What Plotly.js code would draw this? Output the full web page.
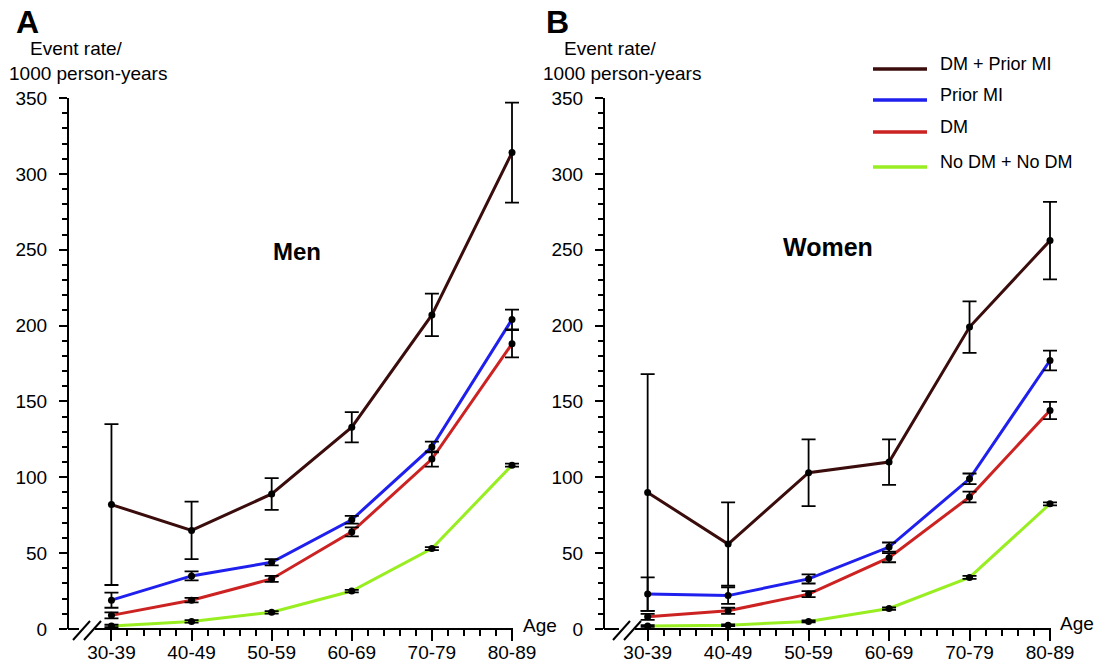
<!DOCTYPE html>
<html>
<head>
<meta charset="utf-8">
<script src="https://cdn.plot.ly/plotly-3.0.1.min.js"></script>
<style>
  html, body { margin: 0; padding: 0; background: #ffffff; }
  #chart { width: 1107px; height: 663px; }
</style>
</head>
<body>
<div id="chart"></div>
<script>
// ---------- data ----------
const ageGroups = ['30-39', '40-49', '50-59', '60-69', '70-79', '80-89'];
const seriesNames = ['DM + Prior MI', 'Prior MI', 'DM', 'No DM + No DM'];

// Men (panel A)
const menDMPriorMI    = [82, 65, 89, 133, 207, 314];
const menDMPriorMIErr = [53, 19, 10.5, 10, 14, 33];
const menPriorMI      = [19, 35, 44, 72, 120, 204];
const menPriorMIErr   = [5, 3, 2, 2.5, 3.5, 6.5];
const menDM           = [9, 19, 33, 64, 112, 188];
const menDMErr        = [2, 1.5, 2, 3, 5, 9];
const menNoDM         = [2, 5, 11, 25, 53, 108];
const menNoDMErr      = [0.8, 0.8, 0.8, 0.8, 1, 1];

// Women (panel B)
const womenDMPriorMI    = [90, 56, 103, 110, 199, 256];
const womenDMPriorMIErr = [78, 27.5, 22, 15, 17, 25.5];
const womenPriorMI      = [23, 22, 33, 54, 99, 177];
const womenPriorMIErr   = [11, 5.5, 3, 3, 3.5, 6.5];
const womenDM           = [8, 12, 23, 47, 87, 144];
const womenDMErr        = [2, 2, 2, 3, 3.5, 5.7];
const womenNoDM         = [2, 2.5, 5, 13.5, 34, 82.5];
const womenNoDMErr      = [0.6, 0.6, 0.6, 0.8, 1, 1];

const seriesColors = ['#3a0c0c', '#1f1fee', '#cc2222', '#99ee22'];

// ---------- build ----------
const W = 1107, H = 663;
const px = x => x / W;
const py = y => 1 - y / H;
const xPos = ageGroups.map((_, i) => i);

function lineTrace(name, vals, color, xa, ya) {
  return {
    type: 'scatter', mode: 'lines', name: name,
    x: xPos, y: vals, xaxis: xa, yaxis: ya,
    line: { color: color, width: 3 },
    showlegend: false, legendgroup: name, cliponaxis: false, hoverinfo: 'skip'
  };
}
function pointTrace(name, vals, errs, xa, ya) {
  return {
    type: 'scatter', mode: 'markers', name: name,
    x: xPos, y: vals, xaxis: xa, yaxis: ya,
    marker: { color: '#000000', size: 7 },
    error_y: { type: 'data', array: errs, visible: true, color: '#000000', thickness: 1.8, width: 7 },
    showlegend: false, legendgroup: name, cliponaxis: false
  };
}

const menSets = [[menDMPriorMI, menDMPriorMIErr], [menPriorMI, menPriorMIErr], [menDM, menDMErr], [menNoDM, menNoDMErr]];
const womenSets = [[womenDMPriorMI, womenDMPriorMIErr], [womenPriorMI, womenPriorMIErr], [womenDM, womenDMErr], [womenNoDM, womenNoDMErr]];

const traces = [];
menSets.forEach((s, i) => traces.push(lineTrace(seriesNames[i], s[0], seriesColors[i], 'x', 'y')));
womenSets.forEach((s, i) => traces.push(lineTrace(seriesNames[i], s[0], seriesColors[i], 'x2', 'y2')));
menSets.forEach((s, i) => traces.push(pointTrace(seriesNames[i], s[0], s[1], 'x', 'y')));
womenSets.forEach((s, i) => traces.push(pointTrace(seriesNames[i], s[0], s[1], 'x2', 'y2')));

const minorX = [];
for (let i = 0; i < ageGroups.length - 1; i++) for (let j = 1; j < 5; j++) minorX.push(i + j / 5);

const FONT = '"Liberation Sans", Arial, Helvetica, sans-serif';
const X_PAD = 0.15; // extra room right of 80-89 so error-bar caps are not clipped

function xAxis(left, right, anchor) {
  const unit = (right - left) / 5.53;
  return {
    domain: [px(left), px(right + X_PAD * unit)], anchor: anchor, range: [-0.53, 5 + X_PAD],
    tickmode: 'array', tickvals: xPos, ticktext: ageGroups,
    showline: false,
    ticks: 'outside', ticklen: 11, tickwidth: 2, tickcolor: '#000',
    minor: { tickmode: 'array', tickvals: minorX, ticks: 'outside', ticklen: 6, tickwidth: 2, tickcolor: '#000' },
    ticklabelstandoff: -5,
    showgrid: false, zeroline: false, fixedrange: true,
    tickfont: { family: FONT, size: 19, color: '#000' }
  };
}
function yAxis(anchor) {
  return {
    domain: [py(629), py(98)], anchor: anchor, range: [0, 350],
    tickmode: 'linear', tick0: 0, dtick: 50,
    showline: true, linecolor: '#000', linewidth: 2,
    ticks: 'outside', ticklen: 8, tickwidth: 2, tickcolor: '#000',
    minor: { dtick: 10, ticks: 'outside', ticklen: 5, tickwidth: 2, tickcolor: '#000' },
    ticklabelstandoff: 8,
    showgrid: false, zeroline: false, fixedrange: true,
    tickfont: { family: FONT, size: 19, color: '#000' }
  };
}

const lnShape = (x0, y0, x1, y1, color, width) => ({ type: 'line', xref: 'paper', yref: 'paper',
  x0: px(x0), y0: py(y0), x1: px(x1), y1: py(y1), line: { color: color, width: width }, layer: 'above' });

// x-axis line drawn as shapes, with the "//" break near the origin
function axisShapes(xLeft, xRight, gapStart) {
  const yA = 629;
  return [
    lnShape(xLeft - 1, yA, gapStart + 3, yA, '#000', 2),
    lnShape(gapStart + 19, yA, xRight + 1, yA, '#000', 2),
    lnShape(gapStart - 3, yA + 11, gapStart + 14, yA - 8, '#000', 2),
    lnShape(gapStart + 8, yA + 11, gapStart + 25, yA - 8, '#000', 2)
  ];
}

function txt(text, x, y, size, bold, xanchor) {
  return {
    text: bold ? '<b>' + text + '</b>' : text, xref: 'paper', yref: 'paper',
    x: px(x), y: py(y), xanchor: xanchor || 'center', yanchor: 'middle',
    showarrow: false, font: { family: FONT, size: size, color: '#000' }
  };
}

// key (legend) rows
const keyLineY = [69, 100, 132, 167];
const keyShapes = seriesNames.map((_, i) => lnShape(873, keyLineY[i], 927, keyLineY[i], seriesColors[i], 3.5));
const keyTexts = seriesNames.map((n, i) => txt(n, 938, keyLineY[i] - 5, 18, false, 'left'));

const layout = {
  width: W, height: H,
  margin: { l: 0, r: 0, t: 0, b: 0 },
  paper_bgcolor: '#ffffff', plot_bgcolor: 'rgba(0,0,0,0)',
  font: { family: FONT, color: '#000' },
  xaxis: xAxis(69, 512, 'y'),
  yaxis: yAxis('x'),
  xaxis2: xAxis(605, 1050, 'y2'),
  yaxis2: yAxis('x2'),
  showlegend: false,
  annotations: [
    txt('A', 27, 22, 32, true),
    txt('B', 557, 22, 32, true),
    txt('Event rate/', 28, 49, 19, false, 'left'),
    txt('1000 person-years', 7, 73, 19, false, 'left'),
    txt('Event rate/', 562, 49, 19, false, 'left'),
    txt('1000 person-years', 541, 73, 19, false, 'left'),
    txt('Men', 297, 251, 24, true),
    txt('Women', 828, 247, 25, true),
    txt('Age', 521, 625, 19, false, 'left'),
    txt('Age', 1058, 623, 19, false, 'left')
  ].concat(keyTexts),
  shapes: [].concat(axisShapes(69, 512, 76), axisShapes(605, 1050, 616), keyShapes)
};

Plotly.newPlot('chart', traces, layout, { displayModeBar: false, staticPlot: true });
</script>
</body>
</html>
